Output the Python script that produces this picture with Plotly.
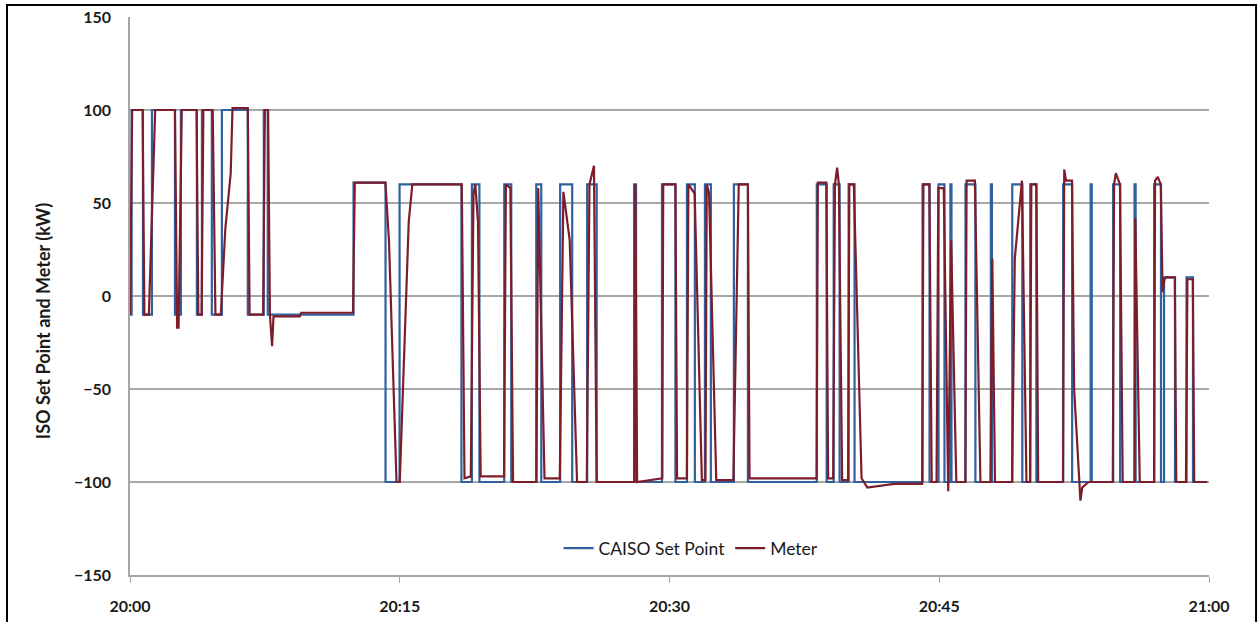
import pandas as pd
import plotly.graph_objects as go

# ---- data (minutes after 20:00) ----
setpoint_min = [0.00, 0.09, 0.72, 1.22, 2.50, 2.83, 3.72, 4.00, 4.55, 5.11, 6.55, 7.44, 7.66,
                12.43, 14.21, 14.99, 18.43, 19.01, 19.43, 20.81, 21.20, 22.59, 22.87, 23.92,
                24.59, 25.42, 25.95, 28.03, 28.14, 29.58, 30.33, 30.97, 31.41, 31.97, 32.30,
                33.58, 34.36, 38.19, 38.74, 39.13, 39.46, 39.96, 40.29, 44.07, 44.46, 44.96,
                45.29, 45.62, 45.68, 46.46, 47.01, 47.87, 47.93, 49.06, 49.62, 50.06, 50.40,
                51.89, 52.39, 53.42, 53.48, 54.67, 55.06, 55.86, 55.92, 56.95, 57.33, 57.50,
                58.11, 58.75, 59.11, 59.90]
setpoint_kw = [-10, 100, -10, 100, -10, 100, -10, 100, -10, 100, -10, 100, -10,
               61, -100, 60, -100, 60, -100, 60, -100, 60, -100, 60,
               -100, 60, -100, 60, -100, 60, -100, 60, -100, 60, -100,
               60, -100, 60, -100, 60, -100, 60, -100, 60, -100, 60,
               -100, 60, -100, 60, -100, 60, -100, 60, -100, 60, -100,
               60, -100, 60, -100, 60, -100, 60, -100, 60, -100, 10,
               -100, 10, -100, -100]

meter_min = [0.00, 0.12, 0.70, 0.80, 1.05, 1.40, 2.50, 2.62, 2.70, 2.88, 3.70, 3.80, 3.98, 4.08,
             4.60, 4.75, 5.05, 5.30, 5.60, 5.70, 6.55, 6.65, 7.40, 7.50, 7.68, 7.78, 7.90, 7.98,
             9.44, 9.52, 12.40, 12.50, 14.20, 14.40, 14.82, 15.00, 15.50, 15.70,
             18.45, 18.60, 18.95, 19.10, 19.20, 19.35, 19.50, 20.80, 20.90, 21.15, 21.30,
             22.60, 22.70, 23.05, 23.90, 24.10, 24.45, 24.86, 25.40, 25.55, 25.80, 25.95,
             28.05, 28.10, 28.20, 29.60, 29.65, 30.33, 30.42, 30.97, 31.05, 31.40, 31.80,
             32.00, 32.07, 32.20, 32.60, 33.55, 33.85, 34.36, 34.45, 38.18, 38.25, 38.72,
             38.82, 39.10, 39.20, 39.32, 39.42, 39.60, 39.93, 40.00, 40.25, 40.68, 41.00,
             42.50, 44.05, 44.12, 44.45, 44.58, 44.85, 44.95, 45.25, 45.50, 45.66, 45.95,
             46.45, 46.52, 46.98, 47.29, 47.85, 47.95, 48.10, 49.05, 49.20, 49.60, 49.85,
             50.05, 50.12, 50.40, 50.50, 51.88, 51.95, 52.05, 52.38, 52.50, 52.85, 52.95,
             53.30, 54.65, 54.72, 54.82, 55.05, 55.20, 55.86, 55.90, 56.15, 56.95, 57.00,
             57.15, 57.32, 57.42, 57.52, 57.60, 58.10, 58.18, 58.72, 58.80, 59.10, 59.18,
             59.90]
meter_kw = [-10, 100, 100, -10, -10, 100, 100, -17, -17, 100, 100, -10, -10, 100,
            100, -10, -10, 36, 66, 101, 101, -10, -10, 100, 100, -10, -27, -11,
            -11, -9, -9, 61, 61, 30, -100, -100, 40, 60,
            60, -98, -97, 55, 60, 40, -97, -97, 60, 58, -100,
            -100, 58, -98, -98, 56, 30, -100, -100, 60, 70, -100,
            -100, 60, -100, -98, 60, 60, -98, -98, 60, 55, -99,
            -99, 60, 55, -99, -99, 60, 60, -98, -98, 61, 61,
            -98, -98, 60, 69, 60, -99, -99, 60, 60, -98, -103,
            -101, -101, 60, 60, -100, -100, 58, 58, -105, 30, -100,
            -100, 62, 62, -100, -100, 20, -100, -100, 20, 62, -100,
            -100, 60, 60, -100, -100, 68, 62, 62, -50, -110, -103,
            -100, -100, 60, 66, 60, -100, -100, 42, -100, -100, 62,
            64, 60, 2, 9, 10, 10, -100, -100, 9, 9, -100,
            -100]

tick_vals_min = [0, 15, 30, 45, 60]
tick_labels = ["20:00", "20:15", "20:30", "20:45", "21:00"]
y_ticks = [-150, -100, -50, 0, 50, 100, 150]

base = pd.Timestamp("2014-01-01 20:00")
def to_time(mins):
    return [base + pd.Timedelta(minutes=m) for m in mins]

fig = go.Figure()
fig.add_trace(go.Scatter(x=to_time(setpoint_min), y=setpoint_kw, mode="lines",
                         name="CAISO Set Point", line=dict(color="#30609E", width=2.2, shape="hv")))
fig.add_trace(go.Scatter(x=to_time(meter_min), y=meter_kw, mode="lines",
                         name="Meter", line=dict(color="#7E1D2A", width=2.2)))

font_main = "Lato, 'Open Sans', sans-serif"
fig.update_layout(
    width=1260, height=622,
    margin=dict(l=130, r=51, t=17, b=47),
    paper_bgcolor="white", plot_bgcolor="white",
    font=dict(family=font_main, color="#1a1a1a"),
    showlegend=True,
    legend=dict(orientation="h", x=0.52, xanchor="center", y=0.048, yanchor="middle",
                font=dict(size=17.5, color="#1a1a1a"), bgcolor="rgba(0,0,0,0)",
                itemwidth=30, tracegroupgap=0),
    xaxis=dict(range=[base, base + pd.Timedelta(minutes=60)],
               tickvals=to_time(tick_vals_min), ticktext=tick_labels,
               showgrid=False, showline=True, linecolor="#A6A6A6", linewidth=1.5,
               ticks="outside", ticklen=6, tickcolor="#A6A6A6", ticklabelstandoff=10,
               automargin=False,
               tickfont=dict(size=16, color="#1a1a1a", weight="bold"), zeroline=False),
    yaxis=dict(range=[-150, 150], tickvals=y_ticks,
               showgrid=True, gridcolor="#A8A8A8", gridwidth=1.5,
               showline=True, linecolor="#A6A6A6", linewidth=1.5,
               ticks="", ticklabelstandoff=14, automargin=False,
               tickfont=dict(size=16, color="#1a1a1a", weight="bold"), zeroline=False),
)

fig.add_annotation(text="ISO Set Point and Meter (kW)", xref="paper", yref="paper",
                   x=-0.0806, y=0.455, xanchor="center", yanchor="middle",
                   textangle=-90, showarrow=False,
                   font=dict(size=18, color="#1a1a1a", family=font_main, weight="bold"))

fig.add_shape(type="rect", xref="paper", yref="paper",
              x0=-0.114, x1=1.0436, y0=-0.25, y1=1.0215,
              line=dict(color="black", width=2), fillcolor="rgba(0,0,0,0)", layer="above")

fig.write_html("out.html", config={"displayModeBar": False},
               post_script="document.body.style.margin='0';document.body.style.overflow='hidden';")
